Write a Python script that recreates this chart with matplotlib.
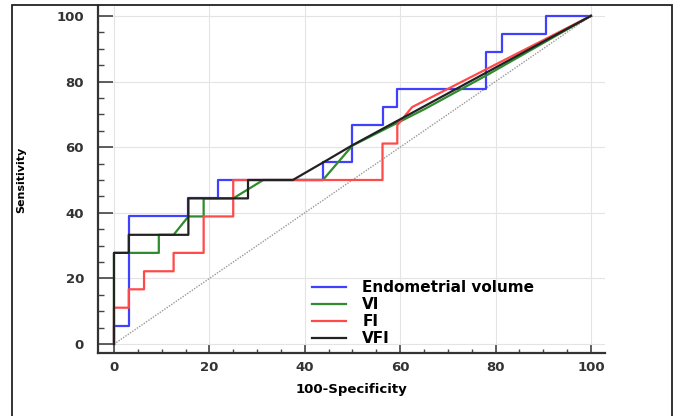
import matplotlib.pyplot as plt
from matplotlib.patches import Rectangle
from matplotlib.ticker import MultipleLocator

# ROC curves (100-Specificity, Sensitivity)
vol_fpr = [0, 0, 3.1, 3.1, 15.6, 15.6, 21.9, 21.9, 43.8, 43.8, 50, 50, 56.3, 56.3,
           59.4, 59.4, 78.1, 78.1, 81.3, 81.3, 90.6, 90.6, 100]
vol_tpr = [0, 5.6, 5.6, 38.9, 38.9, 44.4, 44.4, 50, 50, 55.6, 55.6, 66.7, 66.7, 72.2,
           72.2, 77.8, 77.8, 88.9, 88.9, 94.4, 94.4, 100, 100]

vi_fpr = [0, 0, 9.4, 9.4, 12.5, 15.6, 18.8, 18.8, 25, 31.3, 43.8, 50, 65, 78, 100]
vi_tpr = [0, 27.8, 27.8, 33.3, 33.3, 38.9, 38.9, 44.4, 44.4, 50, 50, 60.5, 71.5, 81.8, 100]

fi_fpr = [0, 0, 3.1, 3.1, 6.3, 6.3, 12.5, 12.5, 18.8, 18.8, 25, 25, 56.3, 56.3,
          59.4, 59.4, 62.5, 100]
fi_tpr = [0, 11.1, 11.1, 16.7, 16.7, 22.2, 22.2, 27.8, 27.8, 38.9, 38.9, 50, 50, 61.1,
          61.1, 66.7, 72.2, 100]

vfi_fpr = [0, 0, 3.1, 3.1, 15.6, 15.6, 28.1, 28.1, 37.5, 43.8, 50, 100]
vfi_tpr = [0, 27.8, 27.8, 33.3, 33.3, 44.4, 44.4, 50, 50, 55.3, 60.6, 100]

fig = plt.figure(figsize=(6.73, 4.16), dpi=100)
W, H = 673, 416
ax = fig.add_axes([98 / W, 1 - 353 / H, (605 - 98) / W, (353 - 6) / H])

# outer frame of the picture
fig.patches.append(Rectangle((12 / W, -0.05), 660 / W, 1.05 - 5 / H,
                             transform=fig.transFigure, fill=False,
                             edgecolor='#222222', linewidth=1.3))

ax.plot([0, 100], [0, 100], color='#999999', lw=1, ls=(0, (1, 1)))
ax.plot(vol_fpr, vol_tpr, color='#4040ff', lw=1.6, label='Endometrial volume')
ax.plot(vi_fpr, vi_tpr, color='#2e8b2e', lw=1.6, label='VI')
ax.plot(fi_fpr, fi_tpr, color='#ff4a4a', lw=1.6, label='FI')
ax.plot(vfi_fpr, vfi_tpr, color='#222222', lw=1.6, label='VFI')

ax.set_xlim(-3.35, 102.95)
ax.set_ylim(-2.7, 103)
ax.xaxis.set_major_locator(MultipleLocator(20))
ax.xaxis.set_minor_locator(MultipleLocator(5))
ax.yaxis.set_major_locator(MultipleLocator(20))
ax.yaxis.set_minor_locator(MultipleLocator(5))
ax.grid(True, which='major', color='#e4e4e4', lw=0.8)
ax.set_axisbelow(True)

for s in ['top', 'right']:
    ax.spines[s].set_visible(False)
for s in ['left', 'bottom']:
    ax.spines[s].set_linewidth(1.6)
    ax.spines[s].set_color('#333333')

ax.tick_params(axis='y', which='major', direction='in', length=11, width=1.2,
               color='#444444', pad=10)
ax.tick_params(axis='y', which='minor', direction='in', length=4.5, width=1,
               color='#444444')
ax.tick_params(axis='x', which='major', direction='in', length=5.5, width=1.2,
               color='#444444', pad=6)
ax.tick_params(axis='x', which='minor', direction='in', length=3, width=1,
               color='#444444')
for lab in ax.get_xticklabels() + ax.get_yticklabels():
    lab.set_fontsize(9.5)
    lab.set_fontweight('bold')
    lab.set_color('#333333')

ax.set_xlabel('100-Specificity', fontsize=9.5, fontweight='bold', labelpad=6)
ax.set_ylabel('Sensitivity', fontsize=8, fontweight='bold', labelpad=22)

ax.legend(loc='upper left', bbox_to_anchor=(312 / W, 1 - 280 / H),
          bbox_transform=fig.transFigure, frameon=False,
          prop={'weight': 'bold', 'size': 11}, handlelength=2.2,
          handletextpad=1.1, labelspacing=0.14, borderpad=0, borderaxespad=0)

plt.savefig('out.png', dpi=100)
